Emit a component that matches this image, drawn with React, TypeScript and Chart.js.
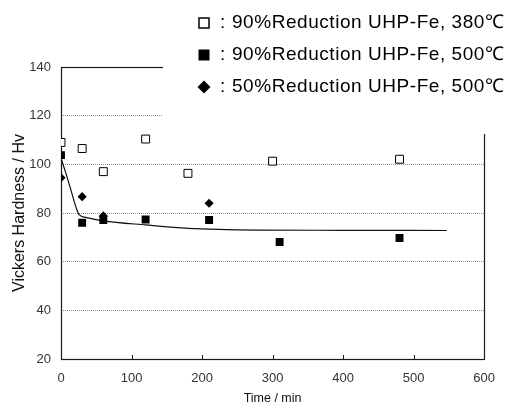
import React, { useEffect, useRef } from 'react';
import { Chart, registerables } from 'chart.js';

Chart.register(...registerables);

// ---- data ----
const xTickValues = [0, 100, 200, 300, 400, 500, 600];
const yTickValues = [20, 40, 60, 80, 100, 120, 140];

const open380Labels = '90%Reduction UHP-Fe, 380℃';
const filled500Label = '90%Reduction UHP-Fe, 500℃';
const diamond500Label = '50%Reduction UHP-Fe, 500℃';

const open380Times = [0, 30, 60, 120, 180, 300, 480];
const open380Values = [109, 106.5, 97, 110.4, 96.3, 101.3, 102.1];

const filled500Times = [0, 30, 60, 120, 210, 310, 480];
const filled500Values = [103.8, 76, 77.1, 77.3, 77.1, 68.1, 69.7];

const diamond500Times = [0, 30, 60, 210];
const diamond500Values = [94.5, 86.7, 78.8, 84];

const fitTimes = [0, 7, 14, 21, 26, 35, 60, 120, 180, 280, 400, 547];
const fitValues = [102.5, 96.3, 89.5, 82.6, 79.2, 78.2, 76.8, 75.1, 73.7, 73.0, 72.9, 72.8];

const toPoints = (xs: number[], ys: number[]) => xs.map((x, i) => ({ x, y: ys[i] }));

const FONT = '"Liberation Sans", Arial, Helvetica, sans-serif';

export default function App() {
  const ref = useRef<HTMLCanvasElement>(null);

  useEffect(() => {
    if (!ref.current) return;

    const framePlugin = {
      id: 'frame',
      beforeDatasetsDraw(chart: any) {
        const { ctx, chartArea } = chart;
        const { left, right, top, bottom } = chartArea;
        ctx.save();
        ctx.strokeStyle = '#1a1a1a';
        ctx.lineWidth = 1.2;
        ctx.strokeRect(Math.round(left) + 0.5, Math.round(top) + 0.5, Math.round(right - left), Math.round(bottom - top));
        // inner tick marks on x axis
        const xs = chart.scales.x;
        ctx.lineWidth = 1;
        for (const v of xTickValues) {
          if (v === xs.min || v === xs.max) continue;
          const px = Math.round(xs.getPixelForValue(v)) + 0.5;
          ctx.beginPath();
          ctx.moveTo(px, Math.round(bottom));
          ctx.lineTo(px, Math.round(bottom) - 4);
          ctx.stroke();
        }
        ctx.restore();
      },
    };

    const legendPlugin = {
      id: 'boxLegend',
      afterDraw(chart: any) {
        const { ctx } = chart;
        ctx.save();
        ctx.fillStyle = '#ffffff';
        ctx.fillRect(163, 0, 344, 134);
        const rows = chart.data.datasets.filter((d: any) => d.legendMarker);
        rows.forEach((d: any, i: number) => {
          const cy = 23 + i * 32;
          const cx = 204;
          ctx.fillStyle = '#000';
          ctx.strokeStyle = '#000';
          if (d.legendMarker === 'open') {
            ctx.lineWidth = 1.5;
            ctx.strokeRect(cx - 5, cy - 5, 10, 10);
          } else if (d.legendMarker === 'filled') {
            ctx.fillRect(cx - 5.5, cy - 5.5, 11, 11);
          } else {
            ctx.beginPath();
            ctx.moveTo(cx, cy - 6.5);
            ctx.lineTo(cx + 6.5, cy);
            ctx.lineTo(cx, cy + 6.5);
            ctx.lineTo(cx - 6.5, cy);
            ctx.closePath();
            ctx.fill();
          }
          ctx.font = `19px ${FONT}`;
          ctx.textBaseline = 'middle';
          ctx.textAlign = 'left';
          (ctx as any).letterSpacing = '0.55px';
          ctx.fillText(':', 220, cy);
          ctx.fillText(d.label, 232, cy);
          (ctx as any).letterSpacing = '0px';
        });
        ctx.restore();
      },
    };

    const chart = new Chart(ref.current, {
      type: 'scatter',
      data: {
        datasets: [
          {
            label: open380Labels,
            legendMarker: 'open',
            data: toPoints(open380Times, open380Values),
            pointStyle: 'rect',
            pointRadius: 5.6,
            backgroundColor: '#ffffff',
            borderColor: '#000000',
            borderWidth: 1,
          } as any,
          {
            label: filled500Label,
            legendMarker: 'filled',
            data: toPoints(filled500Times, filled500Values),
            pointStyle: 'rect',
            pointRadius: 5.6,
            backgroundColor: '#000000',
            borderColor: '#000000',
            borderWidth: 0,
          } as any,
          {
            label: diamond500Label,
            legendMarker: 'diamond',
            data: toPoints(diamond500Times, diamond500Values),
            pointStyle: 'rectRot',
            pointRadius: 4.6,
            backgroundColor: '#000000',
            borderColor: '#000000',
            borderWidth: 0,
          } as any,
          {
            type: 'line',
            label: 'fit',
            data: toPoints(fitTimes, fitValues),
            showLine: true,
            pointRadius: 0,
            borderColor: '#111111',
            borderWidth: 1.2,
            cubicInterpolationMode: 'monotone',
            fill: false,
          } as any,
        ],
      },
      options: {
        animation: false,
        responsive: false,
        devicePixelRatio: 1,
        layout: { padding: { top: 67, right: 22, left: 0, bottom: 0 } },
        plugins: {
          legend: { display: false },
          tooltip: { enabled: false },
        },
        scales: {
          x: {
            type: 'linear',
            min: 0,
            max: 600,
            afterBuildTicks: (s: any) => {
              s.ticks = xTickValues.map((v) => ({ value: v }));
            },
            afterFit: (s: any) => {
              s.height = 47;
            },
            grid: { display: false, drawTicks: false },
            border: { display: false },
            ticks: {
              padding: 12,
              color: '#333',
              font: { family: FONT, size: 13 },
              maxRotation: 0,
            },
            title: {
              display: true,
              text: 'Time / min',
              color: '#111',
              font: { family: FONT, size: 12.5 },
              padding: { top: 0, bottom: 0 },
            },
          },
          y: {
            type: 'linear',
            min: 20,
            max: 140,
            afterBuildTicks: (s: any) => {
              s.ticks = yTickValues.map((v) => ({ value: v }));
            },
            afterFit: (s: any) => {
              s.width = 61;
            },
            grid: {
              drawTicks: false,
              tickLength: 0,
              lineWidth: 1,
              color: (c: any) =>
                c.tick && c.tick.value > 20 && c.tick.value < 140 ? '#8c8c8c' : 'rgba(0,0,0,0)',
            },
            border: { display: false, dash: [1, 1] },
            ticks: {
              padding: 10,
              color: '#333',
              font: { family: FONT, size: 13 },
            },
            title: {
              display: true,
              text: 'Vickers Hardness / Hv',
              color: '#111',
              font: { family: FONT, size: 16 },
              padding: { top: 10, bottom: 0 },
            },
          },
        },
      },
      plugins: [framePlugin, legendPlugin],
    } as any);

    return () => chart.destroy();
  }, []);

  return (
    <div style={{ position: 'fixed', left: 0, top: 0, width: 507, height: 406, background: '#fff' }}>
      <canvas ref={ref} width={507} height={406} />
    </div>
  );
}
